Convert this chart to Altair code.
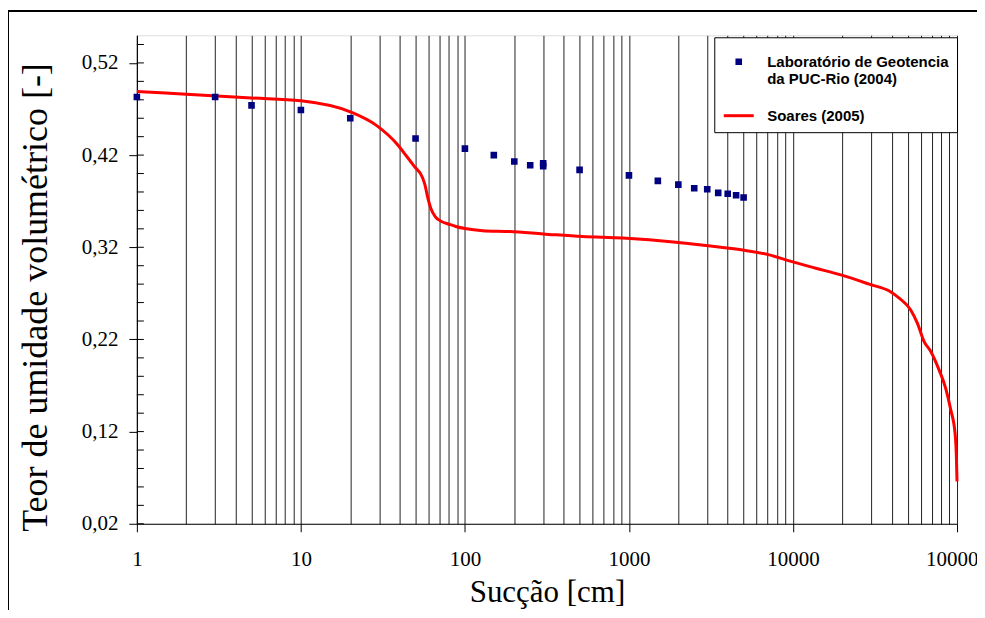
import altair as alt
import pandas as pd

# ---------------- data ----------------
LAB = "Laboratório de Geotencia da PUC-Rio (2004)"
SOARES = "Soares (2005)"

lab_x = [1, 3, 5, 10, 20, 50, 100, 150, 200, 250, 300, 300, 500, 1000,
         1500, 2000, 2500, 3000, 3500, 4000, 4500, 5000]
lab_y = [0.483, 0.483, 0.474, 0.469, 0.460, 0.438, 0.427, 0.420, 0.413,
         0.409, 0.411, 0.408, 0.404, 0.398, 0.392, 0.388, 0.384, 0.383,
         0.379, 0.378, 0.3765, 0.374]

soares_x = [1, 2, 5, 10, 20, 29, 39, 44, 49, 55, 57, 59.5, 62, 66, 72, 80,
            88, 102, 128, 187, 300, 520, 915, 1935, 2950, 4930, 7160, 9480,
            13770, 19600, 29100, 39100, 44400, 52200, 57300, 63000, 69200,
            77700, 85300, 91600, 97300, 99100, 100000]
soares_y = [0.489, 0.486, 0.482, 0.479, 0.467, 0.452, 0.431, 0.419, 0.408,
            0.396, 0.388, 0.373, 0.362, 0.353, 0.348, 0.345, 0.3425, 0.340,
            0.338, 0.337, 0.3345, 0.3316, 0.330, 0.3255, 0.3218, 0.317,
            0.3118, 0.3052, 0.2973, 0.290, 0.280, 0.272, 0.2648, 0.252,
            0.2377, 0.2177, 0.207, 0.187, 0.167, 0.1436, 0.118, 0.093, 0.066]

x_grid = [1, 2, 3, 4, 5, 6, 7, 8, 9,
          10, 20, 30, 40, 50, 60, 70, 80, 90,
          100, 200, 300, 400, 500, 600, 700, 800, 900,
          1000, 2000, 3000, 4000, 5000, 6000, 7000, 8000, 9000,
          10000, 20000, 30000, 40000, 50000, 60000, 70000, 80000, 90000,
          100000]
x_major = [1, 10, 100, 1000, 10000, 100000]
y_major = [0.02, 0.12, 0.22, 0.32, 0.42, 0.52]
y_minor = [0.02, 0.04, 0.06, 0.08, 0.10, 0.12, 0.14, 0.16, 0.18, 0.20,
           0.22, 0.24, 0.26, 0.28, 0.30, 0.32, 0.34, 0.36, 0.38, 0.40,
           0.42, 0.44, 0.46, 0.48, 0.50, 0.52, 0.54]

pts = pd.DataFrame({"x": lab_x, "y": lab_y, "series": LAB})
crv = pd.DataFrame({"x": soares_x, "y": soares_y, "series": SOARES})
minor = pd.DataFrame({"y": y_minor})

W, H = 821, 489
SERIF = "Liberation Serif"

xscale = alt.Scale(type="log", domain=[1, 100000], nice=False)
yscale = alt.Scale(domain=[0.02, 0.55], nice=False, zero=False)

major_test = "indexof([1,10,100,1000,10000,100000], datum.value) >= 0"

x_axis = alt.Axis(
    values=x_grid,
    grid=True, gridColor="#222222", gridWidth=1, gridOpacity=1,
    labelExpr=f"{major_test} ? format(datum.value, 'd') : ''",
    tickOpacity=alt.condition(major_test, alt.value(1), alt.value(0)),
    tickSize=8, tickColor="black",
    labelFont=SERIF, labelFontSize=21, labelColor="black", labelPadding=17,
    labelFlush=False, labelOverlap=False,
    title="Sucção [cm]", titleFont=SERIF, titleFontSize=31,
    titleFontWeight="normal", titleColor="black",
    titleY=78, titleBaseline="alphabetic",
    domainColor="black",
)
y_axis = alt.Axis(
    values=y_major, grid=False,
    labelExpr="replace(format(datum.value, '.2f'), '.', ',')",
    tickSize=8, tickColor="black",
    labelFont=SERIF, labelFontSize=21, labelColor="black", labelPadding=11,
    title="Teor de umidade volumétrico [-]", titleFont=SERIF,
    titleFontSize=36, titleFontWeight="normal", titleColor="black",
    titleX=-90, titleY=262, titleBaseline="alphabetic", titleAngle=-90,
    domainColor="black",
)

sq_path = "M-0.12,-0.12H0.12V0.12H-0.12Z"
ln_path = "M-1,0H1"

legend = alt.Legend(
    title=None, orient="none", legendX=578, legendY=2,
    labelFont="Liberation Sans", labelFontSize=15, labelFontWeight="bold",
    labelColor="black", labelLimit=400,
    labelExpr=("datum.label == 'Soares (2005)' ? datum.label : "
               "['Laboratório de Geotencia', 'da PUC-Rio (2004)']"),
    symbolSize=900, symbolStrokeWidth=3, symbolOpacity=1,
    strokeColor="black", fillColor="white", padding=8, cornerRadius=0,
    rowPadding=12, labelOffset=12,
)

color_scale = alt.Scale(domain=[LAB, SOARES], range=["#000080", "#FF0000"])
shape_scale = alt.Scale(domain=[LAB, SOARES], range=[sq_path, ln_path])

points = alt.Chart(pts).mark_point(filled=True, size=900, strokeWidth=3,
                                   opacity=1).encode(
    x=alt.X("x:Q", scale=xscale, axis=x_axis),
    y=alt.Y("y:Q", scale=yscale, axis=y_axis),
    color=alt.Color("series:N", scale=color_scale, legend=legend),
    stroke=alt.Stroke("series:N", scale=color_scale, legend=legend),
    shape=alt.Shape("series:N", scale=shape_scale, legend=legend),
)

line = alt.Chart(crv).mark_line(color="#FF0000", strokeWidth=3,
                                interpolate="monotone").encode(
    x=alt.X("x:Q", scale=xscale),
    y=alt.Y("y:Q", scale=yscale),
)

ticks_in = alt.Chart(minor).mark_rule(color="black", strokeWidth=1).encode(
    y=alt.Y("y:Q", scale=yscale),
    x=alt.value(0), x2=alt.value(7),
)

frame_left = alt.Chart(minor).mark_rule(color="black", strokeWidth=1).encode(
    x=alt.value(-128.5), y=alt.value(-25), y2=alt.value(H + 90),
)
frame_top = alt.Chart(minor).mark_rule(color="black", strokeWidth=1).encode(
    x=alt.value(-128.5), x2=alt.value(W + 30), y=alt.value(-24.5),
)

chart = alt.layer(line, ticks_in, frame_left, frame_top, points).properties(
    width=W, height=H,
    autosize=alt.AutoSizeParams(type="none"),
    padding={"left": 129, "top": 27, "right": 20, "bottom": 86},
).configure_view(stroke="black", strokeWidth=1).configure(background="white")

chart.save("out.html", embed_options={"renderer": "svg", "actions": False})
